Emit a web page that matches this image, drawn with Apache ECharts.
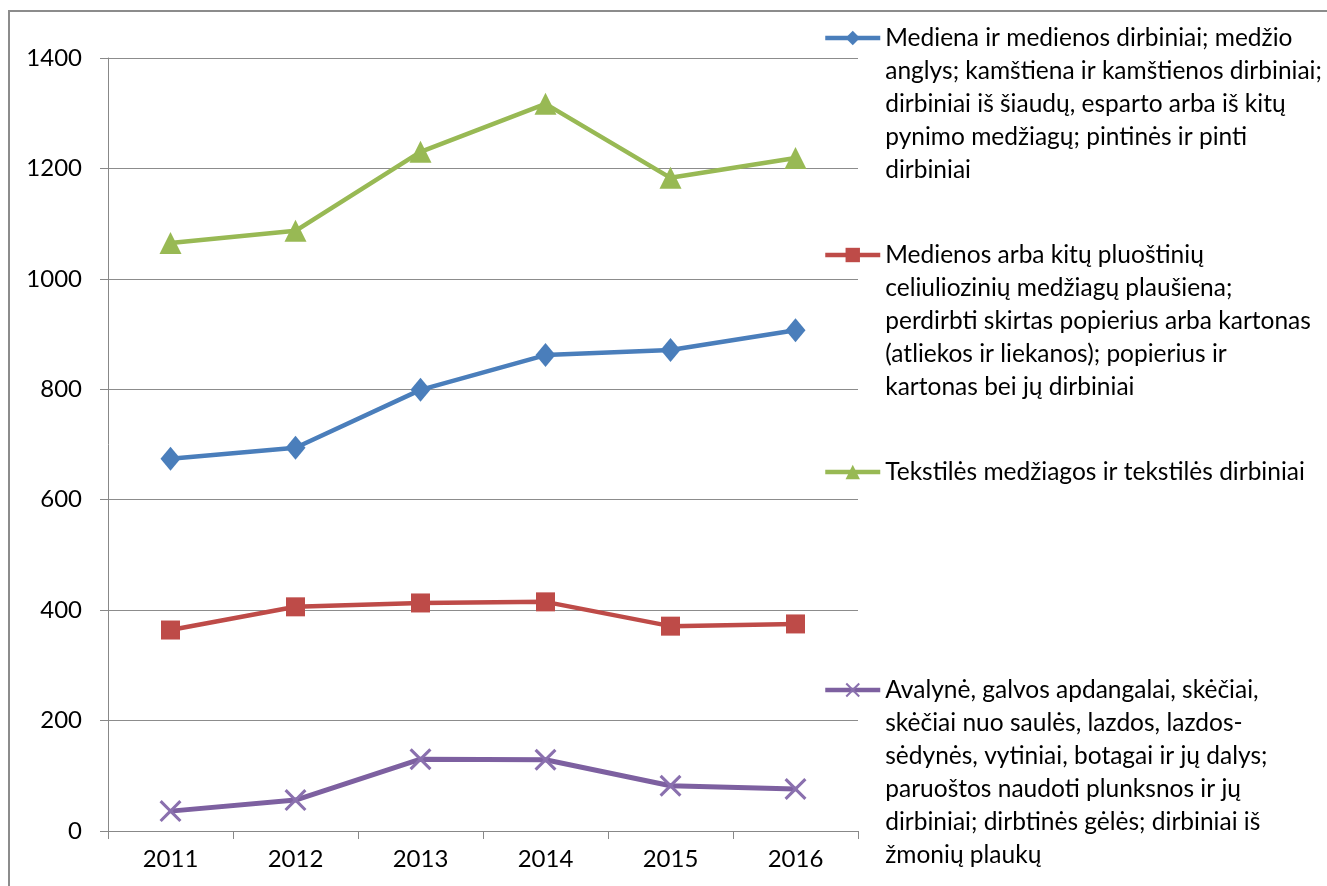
<!DOCTYPE html>
<html>
<head>
<meta charset="utf-8">
<script src="https://cdn.jsdelivr.net/npm/echarts@6/dist/echarts.min.js"></script>
<style>
  html, body { margin: 0; padding: 0; background: #fff; }
  #chart { width: 1327px; height: 886px; }
</style>
</head>
<body>
<div id="chart"></div>
<script>
var years = ['2011', '2012', '2013', '2014', '2015', '2016']

var names = [
  'Mediena ir medienos dirbiniai; medžio\nanglys; kamštiena ir kamštienos dirbiniai;\ndirbiniai iš šiaudų, esparto arba iš kitų\npynimo medžiagų; pintinės ir pinti\ndirbiniai',
  'Medienos arba kitų pluoštinių\nceliuliozinių medžiagų plaušiena;\nperdirbti skirtas popierius arba kartonas\n(atliekos ir liekanos); popierius ir\nkartonas bei jų dirbiniai',
  'Tekstilės medžiagos ir tekstilės dirbiniai',
  'Avalynė, galvos apdangalai, skėčiai,\nskėčiai nuo saulės, lazdos, lazdos-\nsėdynės, vytiniai, botagai ir jų dalys;\nparuoštos naudoti plunksnos ir jų\ndirbiniai; dirbtinės gėlės; dirbiniai iš\nžmonių plaukų'
]

var wood = [674, 694, 799, 862, 871, 907]
var paper = [364, 406, 413, 415, 371, 375]
var textile = [1065, 1087, 1230, 1317, 1183, 1219]
var footwear = [36, 56, 130, 129, 82, 76]

var colors = ['#4A7EBB', '#BE4B48', '#98B954', '#7D60A0']
var crossPath = 'path://M0,1L1,0L5,4L9,0L10,1L6,5L10,9L9,10L5,6L1,10L0,9L4,5Z'

var font = 'Lato'
var lineH = 33
var legendIconY = [38, 255, 472, 690]

var chart = echarts.init(document.getElementById('chart'))

// pad each legend label with empty lines above so the icon sits on its first line
function makeLegend(i) {
  var n = names[i].split('\n').length
  var pad = ''
  for (var k = 1; k < n; k++) pad += '\u00a0\n'
  return {
    data: [names[i]],
    left: 823,
    top: legendIconY[i] - (2 * n - 1) * lineH / 2,
    padding: 0,
    itemWidth: 55,
    itemHeight: 18,
    itemGap: 4,
    selectedMode: false,
    lineStyle: { width: 4.5 },
    formatter: function (name) { return pad + name },
    textStyle: {
      fontFamily: font,
      fontSize: 24.5,
      color: '#000',
      lineHeight: lineH
    }
  }
}

chart.setOption({
  animation: false,
  backgroundColor: '#fff',
  graphic: [{
    type: 'rect',
    shape: { x: 9, y: 11, width: 1340, height: 900 },
    style: { fill: 'none', stroke: '#8c8c8c', lineWidth: 2 },
    silent: true
  }],
  legend: [makeLegend(0), makeLegend(1), makeLegend(2), makeLegend(3)],
  grid: {
    left: 108,
    right: 469,
    top: 58,
    bottom: 55
  },
  xAxis: {
    type: 'category',
    data: years,
    boundaryGap: true,
    axisLine: { lineStyle: { color: '#888', width: 1 } },
    axisTick: { show: true, length: 8, lineStyle: { color: '#888' } },
    axisLabel: { fontFamily: font, fontSize: 24, color: '#000', margin: 16 }
  },
  yAxis: {
    type: 'value',
    min: 0,
    max: 1400,
    interval: 200,
    axisLine: { show: true, lineStyle: { color: '#888', width: 1 } },
    axisTick: { show: true, length: 8, lineStyle: { color: '#888' } },
    axisLabel: {
      fontFamily: font, fontSize: 24, color: '#000', margin: 26,
      formatter: function (v) { return String(v) }
    },
    splitLine: { lineStyle: { color: '#8c8c8c', width: 1 } }
  },
  series: [{
    name: names[0],
    type: 'line',
    data: wood,
    symbol: 'diamond',
    symbolSize: [20, 24],
    lineStyle: { color: colors[0], width: 4.5 },
    itemStyle: { color: colors[0] }
  }, {
    name: names[1],
    type: 'line',
    data: paper,
    symbol: 'rect',
    symbolSize: 19,
    lineStyle: { color: colors[1], width: 4.5 },
    itemStyle: { color: colors[1] }
  }, {
    name: names[2],
    type: 'line',
    data: textile,
    symbol: 'triangle',
    symbolSize: [22, 22],
    lineStyle: { color: colors[2], width: 4.5 },
    itemStyle: { color: colors[2] }
  }, {
    name: names[3],
    type: 'line',
    data: footwear,
    symbol: crossPath,
    symbolSize: 22,
    lineStyle: { color: colors[3], width: 5 },
    itemStyle: { color: '#8A70AE' }
  }]
})
</script>
</body>
</html>
